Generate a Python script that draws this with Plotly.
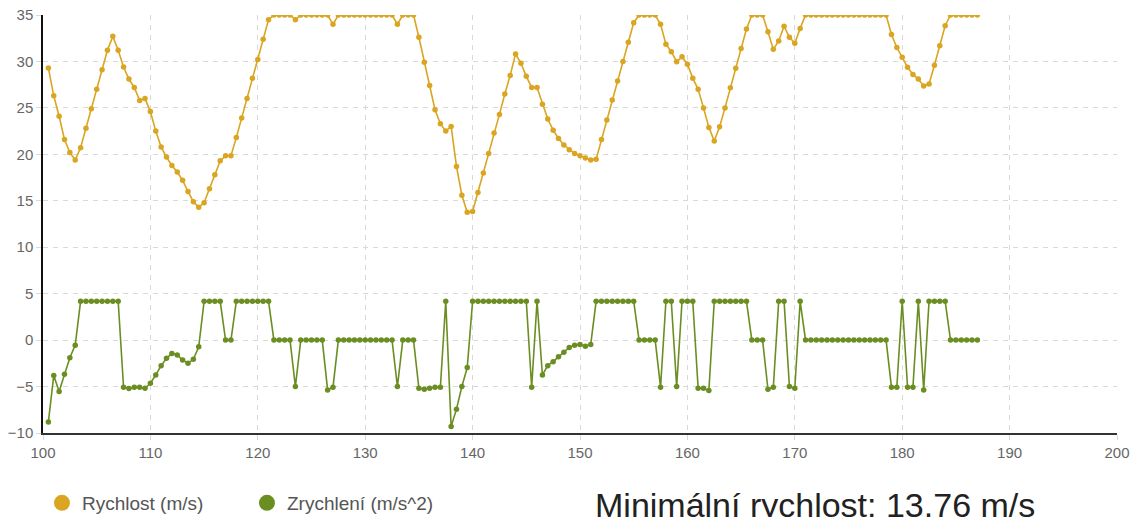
import plotly.graph_objects as go

# time axis (s): samples every 0.5 s starting at 100.5
T0 = 100.5
DT = 0.5

speed = [
    29.3, 26.3, 24.1, 21.6, 20.2, 19.4, 20.7, 22.8, 24.9, 27.0,
    29.1, 31.2, 32.7, 31.2, 29.4, 28.1, 27.2, 25.8, 26.0, 24.6,
    22.5, 20.8, 19.7, 18.8, 18.1, 17.2, 16.0, 14.9, 14.3, 14.8,
    16.3, 17.8, 19.3, 19.85, 19.85, 21.8, 23.9, 26.0, 28.2, 30.2,
    32.4, 34.5, 35, 35, 35, 35, 34.5, 35, 35, 35,
    35, 35, 35, 34.0, 35, 35, 35, 35, 35, 35,
    35, 35, 35, 35, 35, 34.0, 35, 35, 35, 32.6,
    29.9, 27.4, 24.8, 23.3, 22.5, 23.0, 18.7, 15.6, 13.76, 13.85,
    15.9, 18.0, 20.1, 22.3, 24.3, 26.5, 28.5, 30.8, 29.8, 28.4,
    27.2, 27.2, 25.4, 23.8, 22.6, 21.7, 21.0, 20.5, 20.1, 19.85,
    19.6, 19.4, 19.46, 21.6, 23.7, 25.85, 27.9, 30.0, 32.06, 34.17,
    35, 35, 35, 35, 34.0, 31.85, 31.05, 29.97, 30.5, 29.7,
    28.2, 27.0, 25.0, 22.9, 21.44, 22.97, 25.0, 27.17, 29.26, 31.4,
    33.5, 35, 35, 35, 33.2, 31.3, 32.2, 33.8, 32.6, 31.95,
    33.56, 35, 35, 35, 35, 35, 35, 35, 35, 35,
    35, 35, 35, 35, 35, 35, 35, 32.9, 31.5, 30.44,
    29.37, 28.6, 28.1, 27.36, 27.57, 29.6, 31.7, 33.85, 35, 35,
    35, 35, 35, 35,
]

accel = [
    -8.82, -3.82, -5.54, -3.68, -1.89, -0.54, 4.18, 4.18, 4.18, 4.18,
    4.18, 4.18, 4.18, 4.18, -5.07, -5.2, -5.07, -5.07, -5.18, -4.64,
    -3.75, -2.75, -1.96, -1.43, -1.6, -2.14, -2.5, -2.07, -0.71, 4.18,
    4.18, 4.18, 4.18, 0, 0, 4.18, 4.18, 4.18, 4.18, 4.18,
    4.18, 4.18, 0, 0, 0, 0, -5.0, 0, 0, 0,
    0, 0, -5.36, -5.07, 0, 0, 0, 0, 0, 0,
    0, 0, 0, 0, 0, -5.0, 0, 0, 0, -5.18,
    -5.29, -5.18, -5.07, -5.07, 4.18, -9.29, -7.43, -5.0, -2.96, 4.18,
    4.18, 4.18, 4.18, 4.18, 4.18, 4.18, 4.18, 4.18, 4.18, 4.18,
    -5.07, 4.18, -3.75, -2.75, -2.32, -1.79, -1.32, -0.79, -0.54, -0.46,
    -0.65, -0.46, 4.18, 4.18, 4.18, 4.18, 4.18, 4.18, 4.18, 4.18,
    0, 0, 0, 0, -5.07, 4.18, 4.18, -5.0, 4.18, 4.18,
    4.18, -5.18, -5.18, -5.43, 4.18, 4.18, 4.18, 4.18, 4.18, 4.18,
    4.18, 0, 0, 0, -5.29, -5.07, 4.18, 4.18, -5.0, -5.18,
    4.18, 0, 0, 0, 0, 0, 0, 0, 0, 0,
    0, 0, 0, 0, 0, 0, 0, -5.07, -5.07, 4.18,
    -5.07, -5.07, 4.18, -5.36, 4.18, 4.18, 4.18, 4.18, 0, 0,
    0, 0, 0, 0,
]

time = [T0 + DT * i for i in range(len(speed))]

series_names = ["Rychlost (m/s)", "Zrychlení (m/s^2)"]
colors = ["#DAA520", "#6B8E23"]
x_ticks = list(range(100, 201, 10))
y_ticks = list(range(-10, 36, 5))
min_speed = min(speed)

FONT = "Liberation Sans, Arial, sans-serif"

fig = go.Figure()
for name, ys, col in zip(series_names, [speed, accel], colors):
    fig.add_trace(go.Scatter(
        x=time, y=ys, mode="lines+markers", name=name, legendgroup=name,
        showlegend=False,
        line=dict(color=col, width=1.6),
        marker=dict(color=col, size=5.5),
    ))
    # legend proxy (circle only)
    fig.add_trace(go.Scatter(
        x=[None], y=[None], mode="markers", name=name, legendgroup=name,
        marker=dict(color=col, size=20),
    ))

fig.add_annotation(
    text=f"Minimální rychlost: {min_speed:.2f} m/s",
    xref="paper", yref="paper", x=0.719, y=-0.173,
    xanchor="center", yanchor="middle", showarrow=False,
    font=dict(family=FONT, size=34, color="#222"),
)

axis_common = dict(
    showgrid=True, gridcolor="#d9d9d9", griddash="5px,5px", gridwidth=1,
    zeroline=False, ticks="outside", ticklen=5, tickcolor="#d9d9d9",
    tickfont=dict(family=FONT, size=15, color="#666"), automargin=False,
    ticklabeloverflow="allow",
)

fig.update_layout(
    width=1140, height=517,
    margin=dict(l=35, r=31, t=7, b=92, autoexpand=False),
    paper_bgcolor="white", plot_bgcolor="white",
    font=dict(family=FONT),
    xaxis=dict(range=[100, 200], tickvals=x_ticks, showline=True,
               linecolor="#333", linewidth=1.5, **axis_common),
    yaxis=dict(range=[-10, 35], tickvals=y_ticks, showline=True,
               linecolor="#111", linewidth=1.5, **axis_common),
    legend=dict(orientation="h", xref="container", yref="container",
                x=0.0298, y=0.0426, xanchor="left", yanchor="middle",
                itemsizing="trace", entrywidth=160,
                font=dict(family=FONT, size=19, color="#555")),
    showlegend=True,
)

fig.write_html("out.html")
